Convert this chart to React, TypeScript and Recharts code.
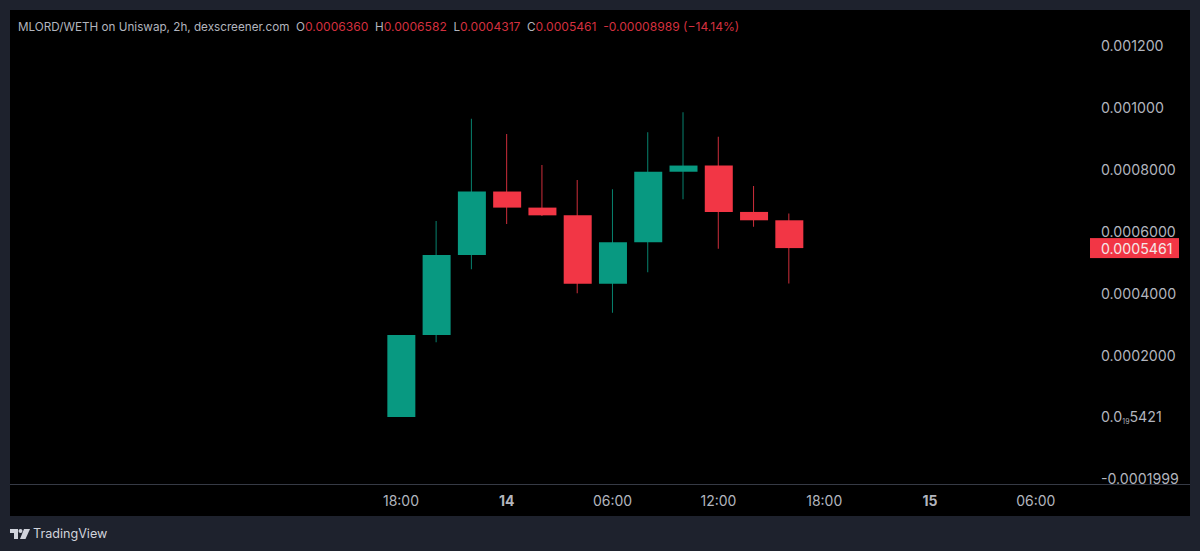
import React from 'react';
import { ComposedChart, Bar, Cell, XAxis, YAxis } from 'recharts';

// hours since the 18:00 candle
const hours = [0, 2, 4, 6, 8, 10, 12, 14, 16, 18, 20, 22];
const opens = [0.00000000000005, 0.000265, 0.000524, 0.000729, 0.000677, 0.000652, 0.000431, 0.000565, 0.000793, 0.000813, 0.000663, 0.000636];
const closes = [0.000265, 0.000524, 0.000729, 0.000677, 0.000652, 0.000431, 0.000565, 0.000793, 0.000813, 0.000663, 0.000636, 0.0005461];
const highs = [0.000265, 0.000634, 0.000964, 0.000915, 0.000815, 0.000766, 0.000736, 0.000921, 0.000985, 0.000906, 0.000747, 0.0006582];
const lows = [0.00000000000005, 0.000242, 0.000478, 0.000624, 0.00065, 0.0004, 0.000337, 0.000468, 0.000704, 0.000544, 0.000615, 0.0004317];

const timeTicks = [0, 6, 12, 18, 24, 30, 36];
const timeLabels = ['18:00', '14', '06:00', '12:00', '18:00', '15', '06:00'];
const boldTimes = ['14', '15'];

const lastPrice = 0.0005461;
const priceTicks = [0.0012, 0.001, 0.0008, 0.0006, 0.0004, 0.0002, 0.00000000000005421, -0.0001999, lastPrice];
const priceLabels = ['0.001200', '0.001000', '0.0008000', '0.0006000', '0.0004000', '0.0002000', '', '-0.0001999', '0.0005461'];

const UP = '#089981';
const DOWN = '#F23645';
const TEXT = '#b2b5be';
const FONT = 'Inter, sans-serif';

const data = hours.map((h, i) => ({
  h,
  body: [Math.min(opens[i], closes[i]), Math.max(opens[i], closes[i])],
  wick: [lows[i], highs[i]],
  up: closes[i] >= opens[i],
}));

function TimeTick({ x, y, payload }: any) {
  const label = timeLabels[timeTicks.indexOf(payload.value)];
  return (
    <text
      x={x}
      y={y}
      dy={13}
      textAnchor="middle"
      fill={TEXT}
      fontFamily={FONT}
      fontSize={14}
      fontWeight={boldTimes.includes(label) ? 700 : 400}
    >
      {label}
    </text>
  );
}

function PriceTick({ x, y, payload }: any) {
  const idx = priceTicks.indexOf(payload.value);
  const common = { x: x + 11, y: y + 5.5, fill: TEXT, fontFamily: FONT, fontSize: 14.2 };
  if (payload.value === lastPrice) {
    return (
      <g>
        <rect x={x} y={y - 10} width={89} height={20} fill={DOWN} />
        <text {...common} fill="#f5e6e8">{priceLabels[idx]}</text>
      </g>
    );
  }
  if (priceLabels[idx] === '') {
    return (
      <text {...common}>
        <tspan>0.0</tspan>
        <tspan fontSize={7} dy={2}>19</tspan>
        <tspan dy={-2}>5421</tspan>
      </text>
    );
  }
  return <text {...common}>{priceLabels[idx]}</text>;
}

function Legend() {
  const red = { color: '#d4303f', fontSize: 12.1 };
  return (
    <div
      style={{
        position: 'absolute',
        left: 18,
        top: 19,
        fontFamily: FONT,
        fontSize: 11.7,
        lineHeight: '16px',
        color: TEXT,
        whiteSpace: 'pre',
      }}
    >
      MLORD/WETH on Uniswap, 2h, dexscreener.com{'  '}O<span style={red}>0.0006360</span>
      {'  '}H<span style={red}>0.0006582</span>
      {'  '}L<span style={red}>0.0004317</span>
      {'  '}C<span style={red}>0.0005461</span>
      {'  '}<span style={red}>-0.00008989 (−14.14%)</span>
    </div>
  );
}

function Brand() {
  return (
    <div style={{ position: 'absolute', left: 10, top: 526, display: 'flex', alignItems: 'center', gap: 3 }}>
      <svg width={20} height={12} viewBox="0 0 20 12">
        <path d="M0 1h8v10H4V5H0z" fill="#d1d4dc" />
        <circle cx={10.5} cy={3} r={2} fill="#d1d4dc" />
        <path d="M14 1h6l-4.5 10H10z" fill="#d1d4dc" />
      </svg>
      <span style={{ fontFamily: FONT, fontSize: 12.6, color: '#d1d4dc' }}>TradingView</span>
    </div>
  );
}

export default function App() {
  return (
    <div style={{ position: 'absolute', left: 0, top: 0, width: 1200, height: 551, background: '#1e222d', overflow: 'hidden' }}>
      <div style={{ position: 'absolute', left: 10, top: 10, width: 1180, height: 506, background: '#000' }} />
      <div style={{ position: 'absolute', left: 10, top: 484, width: 1180, height: 1, background: '#363a45' }} />
      <div style={{ position: 'absolute', left: 10, top: 10 }}>
        <ComposedChart width={1180} height={506} data={data} margin={{ top: 0, right: 0, bottom: 0, left: 0 }}>
          <XAxis
            xAxisId="time"
            dataKey="h"
            type="number"
            domain={[-22.17, 39.07]}
            ticks={timeTicks}
            interval={0}
            height={31}
            axisLine={false}
            tickLine={false}
            tick={<TimeTick />}
          />
          <XAxis xAxisId="wick" dataKey="h" type="number" domain={[-22.17, 39.07]} hide />
          <YAxis
            orientation="right"
            width={100}
            type="number"
            domain={[-0.00022, 0.001316]}
            allowDataOverflow
            ticks={priceTicks}
            interval={0}
            axisLine={false}
            tickLine={false}
            tickMargin={0}
            tickSize={0}
            tick={<PriceTick />}
          />
          <Bar xAxisId="wick" dataKey="wick" barSize={1} isAnimationActive={false}>
            {data.map((d) => (
              <Cell key={d.h} fill={d.up ? UP : DOWN} fillOpacity={0.85} />
            ))}
          </Bar>
          <Bar xAxisId="time" dataKey="body" barSize={28} isAnimationActive={false}>
            {data.map((d) => (
              <Cell key={d.h} fill={d.up ? UP : DOWN} />
            ))}
          </Bar>
        </ComposedChart>
      </div>
      <Legend />
      <Brand />
    </div>
  );
}
